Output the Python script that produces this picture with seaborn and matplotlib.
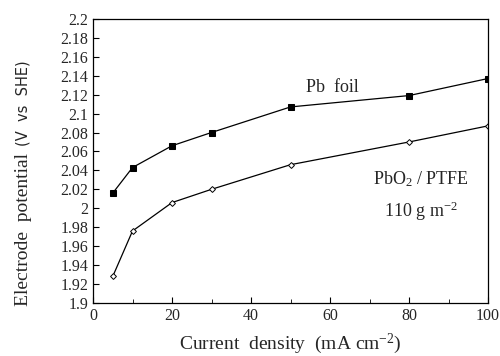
import numpy as np
import pandas as pd
import matplotlib
matplotlib.use("Agg")
import matplotlib.pyplot as plt
import seaborn as sns
from matplotlib.ticker import MultipleLocator

# data
current = [5, 10, 20, 30, 50, 80, 100]
pb_foil = [2.016, 2.043, 2.066, 2.080, 2.107, 2.119, 2.137]
pbo2_ptfe = [1.928, 1.976, 2.006, 2.020, 2.046, 2.070, 2.087]
y_ticks = [1.9, 1.92, 1.94, 1.96, 1.98, 2.0, 2.02, 2.04, 2.06, 2.08,
           2.1, 2.12, 2.14, 2.16, 2.18, 2.2]

df = pd.DataFrame({
    "current": current * 2,
    "potential": pb_foil + pbo2_ptfe,
    "electrode": ["Pb foil"] * len(current) + ["PbO2/PTFE"] * len(current),
})

sns.set_style("ticks")
plt.rcParams["font.family"] = ["Liberation Serif", "DejaVu Serif"]
plt.rcParams["mathtext.fontset"] = "custom"
plt.rcParams["mathtext.rm"] = "Liberation Serif"
plt.rcParams["mathtext.it"] = "Liberation Serif:italic"

fig = plt.figure(figsize=(5, 3.56), dpi=100)
ax = fig.add_axes([0.186, 0.149, 0.790, 0.798])

sns.lineplot(data=df[df.electrode == "Pb foil"], x="current", y="potential",
             color="black", lw=0.9, marker="s", markersize=4.5,
             markerfacecolor="black", markeredgecolor="black", ax=ax)
sns.lineplot(data=df[df.electrode == "PbO2/PTFE"], x="current", y="potential",
             color="black", lw=0.9, marker="D", markersize=3,
             markerfacecolor="white", markeredgecolor="black",
             markeredgewidth=0.7, ax=ax)

ax.set_xlim(0, 100)
ax.set_ylim(1.9, 2.2)
ax.xaxis.set_major_locator(MultipleLocator(20))
ax.xaxis.set_minor_locator(MultipleLocator(10))
ax.set_yticks(y_ticks)
ax.set_yticklabels([f"{v:g}" for v in y_ticks])
ax.tick_params(which="both", direction="in", labelsize=11.5, color="black")
ax.tick_params(which="major", length=4)
ax.tick_params(which="minor", length=3)
for s in ax.spines.values():
    s.set_linewidth(0.9)
    s.set_color("black")

ax.set_xlabel("Current  density  (mA cm$^{-2}$)", fontsize=14, labelpad=6)

# y label: serif part + smaller sans part, like the original
ax.set_ylabel("Electrode  potential", fontsize=14)
ax.yaxis.set_label_coords(-0.155, 0.26)
fig.canvas.draw()
ax.annotate("(V  vs  SHE)", xy=(0.5, 1), xycoords=ax.yaxis.label,
            xytext=(0, 5), textcoords="offset points", rotation=90,
            ha="center", va="bottom", fontsize=10.5, family="DejaVu Sans")

ax.text(60.5, 2.127, "Pb  foil", fontsize=13, ha="center", va="center")
ax.text(83, 2.031, "PbO$_2$ / PTFE", fontsize=13, ha="center", va="center")
ax.text(83, 1.997, "110 g m$^{-2}$", fontsize=13, ha="center", va="center")

fig.savefig("out.png", dpi=100)
